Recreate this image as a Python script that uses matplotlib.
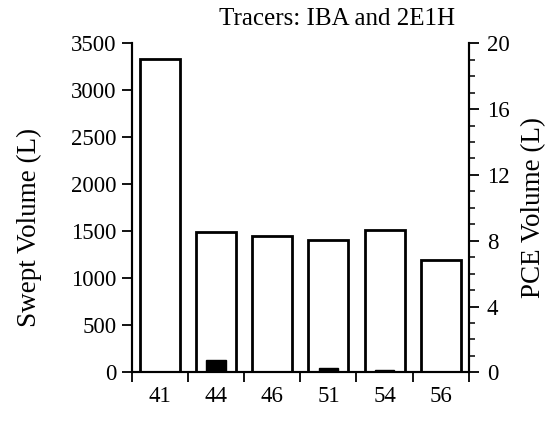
import matplotlib.pyplot as plt
from matplotlib.ticker import MultipleLocator, FixedLocator, NullFormatter

# valores
pocos = ['41', '44', '46', '51', '54', '56']
volume_varrido = [3330, 1495, 1450, 1405, 1510, 1190]
volume_pce = [0.0, 0.75, 0.0, 0.25, 0.12, 0.0]

plt.rcParams['font.family'] = ['Liberation Serif', 'DejaVu Serif']
plt.rcParams['font.size'] = 16.5

fig = plt.figure(figsize=(5.51, 4.28), dpi=100)
ax1 = fig.add_axes([0.239, 0.13, 0.612, 0.769])
ax2 = ax1.twinx()

x = range(len(pocos))
ax1.bar(x, volume_varrido, width=0.71, color='white', edgecolor='black', linewidth=2)
ax2.bar(x, volume_pce, width=0.34, color='black', edgecolor='black', linewidth=1)

ax1.set_xlim(-0.5, len(pocos) - 0.5)
ax1.set_ylim(0, 3500)
ax2.set_ylim(0, 20)

# ticks do eixo x nas fronteiras, rótulos no centro
ax1.xaxis.set_major_locator(FixedLocator([i - 0.5 for i in range(len(pocos) + 1)]))
ax1.xaxis.set_major_formatter(NullFormatter())
ax1.xaxis.set_minor_locator(FixedLocator(list(x)))
ax1.set_xticklabels(pocos, minor=True)
ax1.tick_params(axis='x', which='major', direction='out', length=7, width=1.3)
ax1.tick_params(axis='x', which='minor', length=0, pad=10)

ax1.yaxis.set_major_locator(MultipleLocator(500))
ax1.tick_params(axis='y', direction='out', length=7, width=1.3, pad=4)

ax2.yaxis.set_major_locator(MultipleLocator(4))
ax2.yaxis.set_minor_locator(MultipleLocator(1))
ax2.tick_params(axis='y', which='major', direction='out', length=7, width=1.3, pad=6)
ax2.tick_params(axis='y', which='minor', direction='out', length=4, width=1.1)

for ax in (ax1, ax2):
    ax.spines['top'].set_visible(False)
    for s in ('left', 'right', 'bottom'):
        ax.spines[s].set_linewidth(1.5)

ax1.set_ylabel('Swept Volume (L)', fontsize=19.5)
ax1.yaxis.set_label_coords(-0.265, 0.44)
ax2.set_ylabel('PCE Volume (L)', fontsize=19.5, labelpad=8)

fig.text(0.826, 0.955, 'Tracers: IBA and 2E1H', ha='right', va='center', fontsize=18)

fig.savefig('out.png', dpi=100)
